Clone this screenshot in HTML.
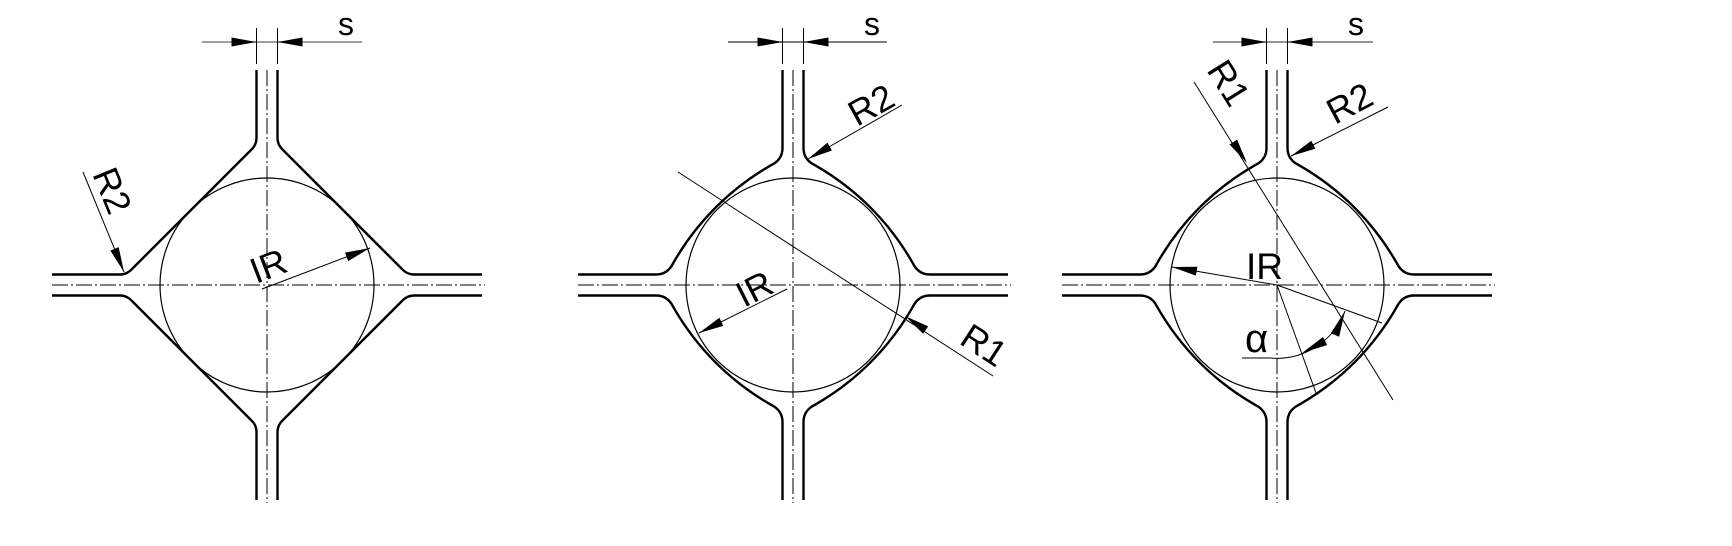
<!DOCTYPE html>
<html><head><meta charset="utf-8">
<style>
html,body{margin:0;padding:0;background:#fff;}
svg{display:block;}
text{font-family:"Liberation Sans",sans-serif;fill:#000;}
</style></head>
<body>
<svg id="s" width="1732" height="546" viewBox="0 0 1732 546" xmlns="http://www.w3.org/2000/svg">
<defs>
<path id="q1" d="M-10.5,-215 L-10.5,-147 Q-10.5,-140 -16,-135 L-135,-16 Q-140,-10.5 -147,-10.5 L-215,-10.5" fill="none" stroke="#000" stroke-width="2.4"/>
<path id="q2" d="M-10.5,-215 L-10.5,-137 Q-10.5,-125.4 -21.7,-119.9 A262,262 0 0 0 -119.9,-21.7 Q-125.4,-10.5 -137,-10.5 L-215,-10.5" fill="none" stroke="#000" stroke-width="2.4"/>
</defs>
<g id="d1" transform="translate(267,285)">
<use href="#q1"/><use href="#q1" transform="scale(-1,1)"/><use href="#q1" transform="scale(1,-1)"/><use href="#q1" transform="scale(-1,-1)"/>
<circle r="107" fill="none" stroke="#000" stroke-width="1.2"/>
<line x1="0" y1="-215" x2="0" y2="218" stroke="#000" stroke-width="1" stroke-dasharray="16 3 2 3"/>
<line x1="-215" y1="0" x2="218" y2="0" stroke="#000" stroke-width="1" stroke-dasharray="16 3 2 3"/>
</g>
<g id="d2" transform="translate(793,285)">
<use href="#q2"/><use href="#q2" transform="scale(-1,1)"/><use href="#q2" transform="scale(1,-1)"/><use href="#q2" transform="scale(-1,-1)"/>
<circle r="107" fill="none" stroke="#000" stroke-width="1.2"/>
<line x1="0" y1="-215" x2="0" y2="218" stroke="#000" stroke-width="1" stroke-dasharray="16 3 2 3"/>
<line x1="-215" y1="0" x2="218" y2="0" stroke="#000" stroke-width="1" stroke-dasharray="16 3 2 3"/>
</g>
<g id="d3" transform="translate(1277,285)">
<use href="#q2"/><use href="#q2" transform="scale(-1,1)"/><use href="#q2" transform="scale(1,-1)"/><use href="#q2" transform="scale(-1,-1)"/>
<circle r="107" fill="none" stroke="#000" stroke-width="1.2"/>
<line x1="0" y1="-215" x2="0" y2="218" stroke="#000" stroke-width="1" stroke-dasharray="16 3 2 3"/>
<line x1="-215" y1="0" x2="218" y2="0" stroke="#000" stroke-width="1" stroke-dasharray="16 3 2 3"/>
</g>
<g id="thin" stroke="#000" stroke-width="1" fill="none">
<line x1="202" y1="42" x2="362" y2="42" stroke="#666" stroke-width="1.3"/>
<line x1="256.5" y1="28" x2="256.5" y2="64"/><line x1="277.5" y1="28" x2="277.5" y2="64"/>
<line x1="728" y1="42" x2="887" y2="42" stroke="#333" stroke-width="1.2"/>
<line x1="782.5" y1="28" x2="782.5" y2="64"/><line x1="803.5" y1="28" x2="803.5" y2="64"/>
<line x1="1213" y1="42" x2="1373" y2="42" stroke="#555" stroke-width="1.2"/>
<line x1="1266.5" y1="28" x2="1266.5" y2="64"/><line x1="1287.5" y1="28" x2="1287.5" y2="64"/>
<line x1="83" y1="172" x2="124" y2="272"/>
<line x1="262" y1="289" x2="370" y2="248"/>
<line x1="902" y1="105" x2="808" y2="159"/>
<line x1="678" y1="172" x2="993" y2="376"/>
<line x1="787" y1="289" x2="699" y2="333"/>
<line x1="1194" y1="82" x2="1393" y2="400"/>
<line x1="1388" y1="107" x2="1291" y2="156"/>
<line x1="1277" y1="285" x2="1172" y2="267"/>
<line x1="1277" y1="285" x2="1382" y2="323"/>
<line x1="1277" y1="285" x2="1316" y2="393"/>
<path d="M1242,358 L1270,358 A73,73 0 0 0 1345,311"/>
</g>
<g id="arr" fill="#000">
<polygon points="256.5,42 231.5,37.5 231.5,46.5"/>
<polygon points="277.5,42 302.5,37.5 302.5,46.5"/>
<polygon points="782.5,42 757.5,37.5 757.5,46.5"/>
<polygon points="803.5,42 828.5,37.5 828.5,46.5"/>
<polygon points="1266.5,42 1241.5,37.5 1241.5,46.5"/>
<polygon points="1287.5,42 1312.5,37.5 1312.5,46.5"/>
</g>
<text x="338" y="35" font-size="32">s</text>
<text x="864" y="35" font-size="32">s</text>
<text x="1348" y="35" font-size="32">s</text>
<text transform="translate(92,174) rotate(67.7)" font-size="36">R2</text>
<text transform="translate(256,284) rotate(-21)" font-size="36">IR</text>
<text transform="translate(857,127) rotate(-29)" font-size="36">R2</text>
<text transform="translate(744,308) rotate(-27)" font-size="36">IR</text>
<text transform="translate(958,343) rotate(33)" font-size="36">R1</text>
<text transform="translate(1206,70) rotate(58)" font-size="36">R1</text>
<text transform="translate(1335,125) rotate(-28)" font-size="36">R2</text>
<text x="1246" y="279" font-size="37">IR</text>
<text x="1245" y="352" font-size="40">α</text>
</svg>
<script>
(function(){
var g=document.getElementById('arr');
function a(tx,ty,fx,fy,L,W){L=L||25;W=W||4.5;var dx=tx-fx,dy=ty-fy,d=Math.sqrt(dx*dx+dy*dy);dx/=d;dy/=d;
var bx=tx-dx*L,by=ty-dy*L;var p=document.createElementNS('http://www.w3.org/2000/svg','polygon');
p.setAttribute('points',tx+','+ty+' '+(bx-dy*W)+','+(by+dx*W)+' '+(bx+dy*W)+','+(by-dx*W));g.appendChild(p);}
a(124,272,83,172);a(370,248,262,289);
a(808,159,902,105);a(905,316,993,376);a(699,333,787,289);
a(1247,163,1194,82);a(1291,156,1388,107);a(1172,267,1277,285);
a(1302,353,1327,340,26,4.5);a(1345,311,1335,335,26,4.5);
})();
</script>
</body></html>
